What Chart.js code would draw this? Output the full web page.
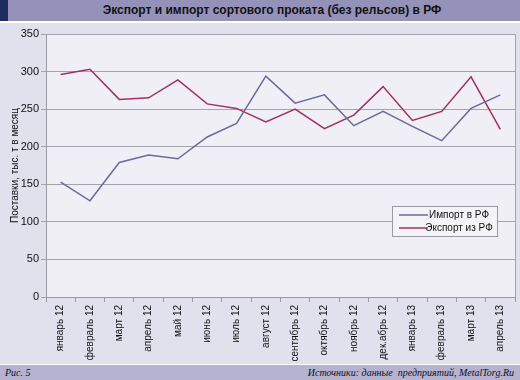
<!DOCTYPE html>
<html><head><meta charset="utf-8">
<script src="https://cdn.jsdelivr.net/npm/chart.js@4/dist/chart.umd.min.js"></script>
<style>
html,body{margin:0;padding:0;width:520px;height:380px;overflow:hidden;background:#e1e0ed;font-family:"Liberation Sans",Arial,sans-serif;}
#title{position:absolute;left:0;top:0;width:520px;height:21px;background:#9592b9;}
#navy{position:absolute;left:0;top:0;width:8px;height:21px;background:#1f2a5e;}
#ttext{position:absolute;left:20px;top:3px;width:504px;text-align:center;font-weight:bold;font-size:12px;color:#111;}
#gap1{position:absolute;left:0;top:21px;width:520px;height:2px;background:#fff;}
#foot{position:absolute;left:0;top:364px;width:520px;height:16px;background:#b5b3d1;border-top:1px solid #fff;font-family:"Liberation Serif","Times New Roman",serif;font-style:italic;font-size:10px;color:#111;}
#fl{position:absolute;left:5px;top:2px;}
#fr{position:absolute;right:6px;top:2px;}
#wrap{position:absolute;left:0;top:23px;width:520px;height:340px;}
</style></head>
<body>
<div id="title"></div><div id="navy"></div>
<div id="ttext">Экспорт и импорт сортового проката (без рельсов) в РФ</div>
<div id="gap1"></div>
<div id="wrap"><canvas id="c" width="520" height="340"></canvas></div>
<div id="foot"><span id="fl">Рис. 5</span><span id="fr">Источники: данные&nbsp; предприятий, MetalTorg.Ru</span></div>
<script>
const categories = ["январь 12","февраль 12","март 12","апрель 12","май 12","июнь 12","июль 12","август 12","сентябрь 12","октябрь 12","ноябрь 12","дек.абрь 12","январь 13","февраль 13","март 13","апрель 13"];
const importRF = [153,128,179,189,184,213,231,294,258,269,228,247,227,208,251,269];
const exportRF = [296,303,263,265,289,257,251,233,250,224,242,280,235,247,293,223];
const yTicks = [0,50,100,150,200,250,300,350];
const seriesNames = ["Импорт в РФ","Экспорт из РФ"];
const colors = ["#6a6aa2","#a3305e"];

const bgPlugin = {
  id:'bg',
  beforeDraw(chart){
    const {ctx, chartArea:a} = chart;
    ctx.save();
    ctx.fillStyle = '#efeff5';
    ctx.fillRect(a.left, a.top, a.right-a.left, a.bottom-a.top);
    ctx.restore();
  },
  afterDatasetsDraw(chart){
    const {ctx, chartArea:a} = chart;
    ctx.save();
    ctx.strokeStyle = '#a4a4ad';
    ctx.lineWidth = 1;
    ctx.beginPath();
    ctx.moveTo(a.left, a.top+0.5); ctx.lineTo(a.right+0.5, a.top+0.5); ctx.lineTo(a.right+0.5, a.bottom);
    ctx.stroke();
    // legend
    const lx = 392, ly = 183, lw = 105, lh = 30;
    ctx.fillStyle = '#f4f4f8';
    ctx.fillRect(lx, ly, lw, lh);
    ctx.strokeStyle = '#9a9aa2';
    ctx.strokeRect(lx+0.5, ly+0.5, lw, lh);
    ctx.font = '10px "Liberation Sans", Arial, sans-serif';
    ctx.textBaseline = 'middle';
    chart.data.datasets.forEach((ds,i)=>{
      const yy = ly + 9 + i*13;
      ctx.strokeStyle = ds.borderColor;
      ctx.lineWidth = 1.5;
      ctx.beginPath(); ctx.moveTo(lx+7, yy); ctx.lineTo(lx+36, yy); ctx.stroke();
      ctx.fillStyle = '#111';
      ctx.textAlign = 'center';
      ctx.fillText(ds.label, lx+67, yy);
    });
    ctx.restore();
  }
};

new Chart(document.getElementById('c'), {
  type:'line',
  data:{
    labels: categories,
    datasets:[
      {label:seriesNames[0], data:importRF, borderColor:colors[0], backgroundColor:colors[0], borderWidth:1.5, pointRadius:0, tension:0},
      {label:seriesNames[1], data:exportRF, borderColor:colors[1], backgroundColor:colors[1], borderWidth:1.5, pointRadius:0, tension:0}
    ]
  },
  options:{
    responsive:false,
    animation:false,
    layout:{padding:{top:11,right:5,left:9,bottom:0}},
    plugins:{legend:{display:false}, tooltip:{enabled:false}},
    scales:{
      x:{
        offset:true,
        grid:{display:true, drawOnChartArea:false, drawTicks:true, tickLength:5, color:'#9a9aa2', offset:true},
        border:{color:'#9a9aa2'},
        ticks:{minRotation:90, maxRotation:90, autoSkip:false, color:'#111', font:{size:10, family:'"Liberation Sans", Arial, sans-serif'}, padding:3},
        afterFit(s){ s.height = 66; }
      },
      y:{
        min:0, max:350,
        afterBuildTicks(s){ s.ticks = yTicks.map(v=>({value:v})); },
        grid:{color:'#a4a4ad', tickLength:5, drawTicks:true},
        border:{color:'#9a9aa2'},
        ticks:{color:'#111', font:{size:11, family:'"Liberation Sans", Arial, sans-serif'}, padding:2},
        title:{display:true, text:'Поставки, тыс. т в месяц', color:'#111', font:{size:10, family:'"Liberation Sans", Arial, sans-serif'}, padding:{top:0,bottom:0}},
        afterFit(s){ s.width = 37; }
      }
    }
  },
  plugins:[bgPlugin]
});
</script>
</body></html>
